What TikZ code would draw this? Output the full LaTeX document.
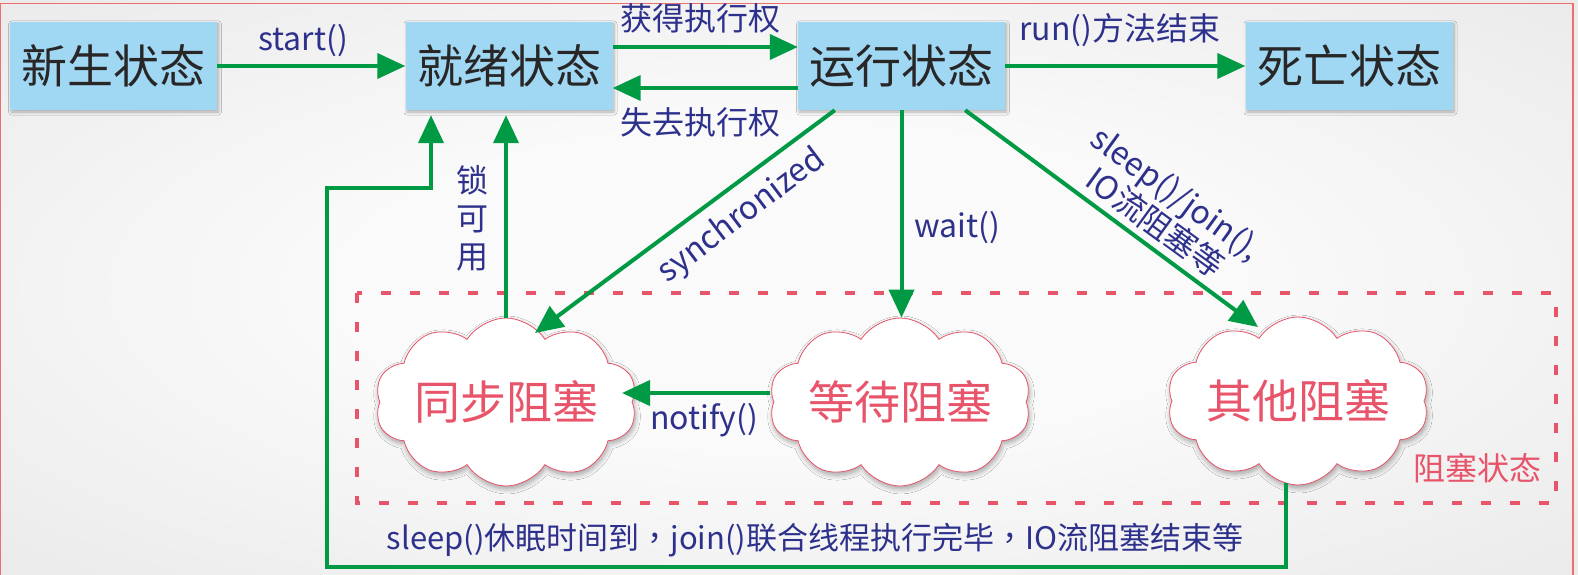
\documentclass[tikz,border=0pt]{standalone}
\usepackage{fontspec}
\newfontfamily\cjk{Noto Sans CJK SC}
\newfontfamily\cjktc{Noto Sans CJK TC}
\usetikzlibrary{arrows.meta,calc,shapes.symbols,shadows.blur}

\definecolor{flow}{RGB}{0,154,68}
\definecolor{labelblue}{RGB}{46,49,140}
\definecolor{boxfill}{RGB}{160,216,243}
\definecolor{boxtext}{RGB}{40,38,38}
\definecolor{blockred}{RGB}{232,84,106}
\definecolor{framered}{RGB}{236,110,110}
\definecolor{bgin}{RGB}{250,250,250}
\definecolor{bgout}{RGB}{224,224,224}

\pgfdeclareradialshading{backdrop}{\pgfpoint{0bp}{0bp}}{%
  color(0bp)=(bgin); color(14bp)=(bgin); color(50bp)=(bgout)}

\tikzset{
  statebox/.style={draw=none, fill=boxfill, minimum width=207pt, minimum height=88pt,
    inner sep=0pt, text=boxtext, font=\cjk\fontsize{46}{52}\selectfont,
    blur shadow={shadow xshift=1.5pt, shadow yshift=-2pt, shadow blur steps=6,
      shadow blur radius=3pt, shadow opacity=30}},
  blockcloud/.style={cloud, cloud puffs=10, cloud puff arc=115, cloud ignores aspect,
    minimum width=262pt, minimum height=168pt, inner sep=0pt,
    draw=blockred, line width=0.8pt, fill=white, text=blockred,
    font=\cjk\fontsize{46}{52}\selectfont,
    blur shadow={shadow xshift=1pt, shadow yshift=-3pt, shadow blur steps=8,
      shadow blur radius=5pt, shadow opacity=35}},
  flowarrow/.style={draw=flow, line width=4pt,
    -{Triangle[length=28pt,width=25pt]}},
  flowlabel/.style={text=labelblue, font=\cjk\fontsize{32}{38}\selectfont, inner sep=0pt},
  zone/.style={draw=blockred, line width=4.5pt, dash pattern=on 10pt off 19pt},
}

\begin{document}
\begin{tikzpicture}[x=1pt, y=-1pt]
  % canvas and background
  \useasboundingbox (0,0) rectangle (1578,575);
  \shade[shading=backdrop] (0,0) rectangle (1578,575);
  \draw[framered, line width=1.2pt] (0.6,590) -- (0.6,3.5) -- (1573,3.5) -- (1573,590);

  % dashed region holding the blocked states
  \draw[zone] (357,293) rectangle (1556,503);
  \node[text=blockred, font=\cjk\fontsize{32}{36}\selectfont, inner sep=0pt]
    (zonelabel) at (1477,468) {阻塞状态};

  % thread states
  \node[statebox] (new)  at (113.5,66) {新生状态};
  \node[statebox] (ready) at (509,66) {就绪状态};
  \node[statebox] (run)  at (901.5,66) {运行状态};
  \node[statebox] (dead) at (1349,66) {死亡状态};

  % blocked states
  \node[blockcloud] (sync)  at (506,402) {同步阻塞};
  \node[blockcloud] (wait)  at (900,402) {等待阻塞};
  \node[blockcloud] (other) at (1298,401) {其他阻塞};

  % transitions along the top row
  \draw[flowarrow] (new) -- (ready);
  \draw[flowarrow] ([yshift=19pt]ready.east) -- ([yshift=19pt]run.west);
  \draw[flowarrow] ([yshift=-22pt]run.west) -- ([yshift=-22pt]ready.east);
  \draw[flowarrow] (run) -- (dead);

  \node[flowlabel] (lstart) at (303,41) {start()};
  \node[flowlabel] (lgain)  at (700,18) {获得执行权};
  \node[flowlabel] (llose)  at (700,122) {失去执行权};
  \node[flowlabel] (lend)   at (1120,30) {run()方法结束};

  % from running into the blocked states
  \draw[flowarrow] ($(run.south west)+(37,0)$) -- ($(sync.center)+(29,-69)$);
  \draw[flowarrow] (run.south) -- (run.south |- wait.north);
  \draw[flowarrow] ($(run.south east)+(-40,0)$) -- ($(other.center)+(-40,-74)$);

  \node[flowlabel, rotate=37] (lsync) at (742,216) {synchronized};
  \node[flowlabel] (lwait) at (957,228) {wait()};
  \node[flowlabel, rotate=-36, align=center, font=\cjk\fontsize{32}{36}\selectfont]
    (lsleep) at (1166,208) {sleep()/join(),\\IO流阻塞等};

  % leaving the blocked states
  \draw[flowarrow, shorten >=5pt] (sync.north) -- (sync.north |- ready.south);
  \node[flowlabel, align=center, font=\cjk\fontsize{32}{38}\selectfont]
    (llock) at (472,218) {锁\\可\\用};

  \draw[flowarrow] ($(wait.center)+(-130,-9)$) -- ($(sync.center)+(116,-9)$);
  \node[flowlabel] (lnotify) at (704,420) {notify()};

  \coordinate (loopbottom) at (327,567);
  \coordinate (looptop) at (431,188);
  \draw[flowarrow, shorten >=5pt] ($(other.south)+(-12,-2)$) |- (loopbottom) |- (looptop)
    -- (looptop |- ready.south);
  \node[flowlabel, font=\cjk\fontsize{31}{36}\selectfont] (lback) at (815,540)
    {sleep()休眠时间到{\cjktc ，}join()联合线程执行完毕{\cjktc ，}IO流阻塞结束等};
\end{tikzpicture}
\end{document}
